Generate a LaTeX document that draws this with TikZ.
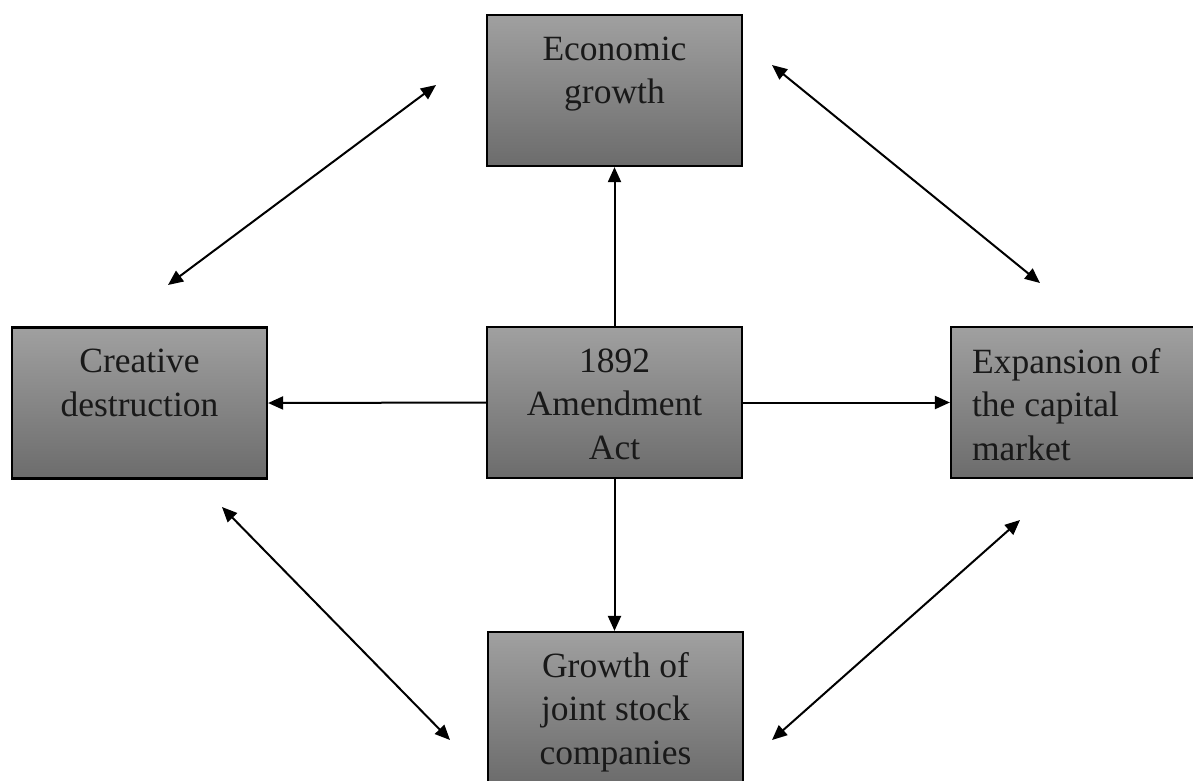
\documentclass[tikz,border=0pt]{standalone}
\usepackage{fontspec}
\setmainfont{Liberation Serif}
\newfontfamily\boxserif{Liberation Serif}
\usetikzlibrary{arrows.meta,calc}
\definecolor{boxtop}{RGB}{160,160,160}
\definecolor{boxbot}{RGB}{108,108,108}
\begin{document}
\begin{tikzpicture}[x=1pt,y=-1pt,
  box/.style={draw=black,line width=2.2pt,top color=boxtop,bottom color=boxbot,
    minimum width=255pt,minimum height=151pt,inner sep=0pt},
  txt/.style={font=\boxserif\fontsize{35.5}{43.5}\selectfont,inner sep=0pt,align=center,text=black!90},
  con/.style={line width=2pt,-{Triangle[length=15pt,width=13pt]}},
  bicon/.style={line width=2pt,{Triangle[length=15pt,width=13pt]}-{Triangle[length=15pt,width=13pt]}}]
\useasboundingbox (0,0) rectangle (1193,780);
\clip (0,0) rectangle (1193,780);
\fill[white] (0,0) rectangle (1193,780);
% boxes
\node[box] (econ) at (614.5,90.5) {};
\node[box] (act) at (614.5,402.5) {};
\node[box] (crea) at (139.5,403) {};
\node[box] (expa) at (1078.5,402.5) {};
\node[box] (grow) at (615.5,707.5) {};
% texts
\node[txt,anchor=north] (econT) at (econ.north) {\rule{0pt}{46pt}Economic\\growth};
\node[txt,anchor=north] (actT) at (act.north) {\rule{0pt}{46pt}1892\\Amendment\\Act};
\node[txt,anchor=north] (creaT) at (crea.north) {\rule{0pt}{46pt}Creative\\destruction};
\node[txt,anchor=north west,align=left] (expaT) at ($(expa.north west)+(22,0)$) {\rule{0pt}{47pt}Expansion of\\the capital\\market};
\node[txt,anchor=north] (growT) at (grow.north) {\rule{0pt}{46pt}Growth of\\joint stock\\companies};
% straight connectors
\draw[con] (act.north) -- (econ.south);
\draw[con] (act.west) -- (crea.east);
\draw[con] (act.east) -- (expa.west);
\draw[con] (act.south) -- (act.south |- grow.north);
% diagonal double arrows
\coordinate (d1a) at (168,285);
\coordinate (d1b) at (436,85);
\coordinate (d2a) at (772,65);
\coordinate (d2b) at (1040,283);
\coordinate (d3a) at (222,507);
\coordinate (d3b) at (450,740);
\coordinate (d4a) at (1020,520);
\coordinate (d4b) at (772,740);
\draw[bicon] (d1a) -- (d1b);
\draw[bicon] (d2a) -- (d2b);
\draw[bicon] (d3a) -- (d3b);
\draw[bicon] (d4a) -- (d4b);
\end{tikzpicture}
\end{document}
